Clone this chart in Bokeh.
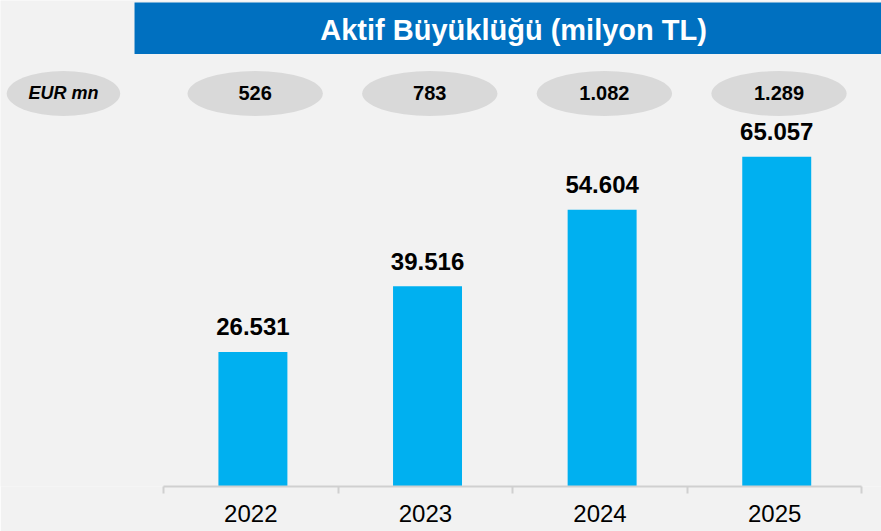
from bokeh.plotting import figure
from bokeh.models import Range1d, FixedTicker, Label, BoxAnnotation, ColumnDataSource
from bokeh.core.properties import value
from bokeh.embed import file_html
from bokeh.resources import INLINE

# ---- data ----
years = ["2022", "2023", "2024", "2025"]
assets_tl_mn = [26531, 39516, 54604, 65057]
asset_labels = ["26.531", "39.516", "54.604", "65.057"]
eur_mn_labels = ["526", "783", "1.082", "1.289"]
eur_header = "EUR mn"
title_text = "Aktif Büyüklüğü (milyon TL)"

BG = "#F2F2F2"
BAR = "#00B0F0"
TITLE_BG = "#0070C0"
PILL = "#D9D9D9"
FONT = "Liberation Sans"

pos = [i + 1 for i in range(len(years))]

Y_TOP = 95858
PX = 1000 / 5.07  # data units per screen pixel (vertical)

p = figure(width=881, height=531, output_backend="svg", toolbar_location=None,
           x_range=Range1d(-0.4336, 4.612), y_range=Range1d(0, Y_TOP),
           min_border_left=0, min_border_right=0, min_border_top=0, min_border_bottom=45,
           background_fill_color=BG, border_fill_color=BG, outline_line_color=None)
p.grid.visible = False
p.yaxis.visible = False

# bars
src = ColumnDataSource(dict(x=[x + 0.012 for x in pos], top=assets_tl_mn, lab=asset_labels))
p.vbar(x="x", top="top", bottom=0, width=0.395, source=src, fill_color=BAR, line_color=None)
p.text(x="x", y="top", text="lab", source=src, text_align="center", text_baseline="alphabetic",
       y_offset=-25, text_font=value(FONT), text_font_style="bold", text_font_size="24px",
       text_color="black")

# title bar
p.add_layout(BoxAnnotation(left=0.334, right=4.7, bottom=Y_TOP - 53.5 * PX, top=Y_TOP - 2 * PX,
                           fill_color=TITLE_BG, fill_alpha=1, line_color=None, level="underlay"))
p.add_layout(Label(x=2.505, y=Y_TOP - 29.5 * PX, text=title_text, text_align="center",
                   text_baseline="middle", text_font=FONT, text_font_style="bold",
                   text_font_size="29px", text_color="white"))

# EUR pills
pill_y = Y_TOP - 93 * PX
ex = [-0.073] + [x + 0.025 for x in pos]
etxt = [eur_header] + eur_mn_labels
estyle = ["bold italic"] + ["bold"] * len(eur_mn_labels)
esize = ["18px"] + ["20px"] * len(eur_mn_labels)
esrc = ColumnDataSource(dict(x=ex, y=[pill_y] * len(ex), t=etxt, st=estyle, sz=esize,
                             w=[0.65] + [0.775] * len(eur_mn_labels)))
p.ellipse(x="x", y="y", width="w", height=45, height_units="screen", source=esrc,
          fill_color=PILL, line_color=None)
p.text(x="x", y="y", text="t", source=esrc, text_align="center", text_baseline="middle",
       text_font=value(FONT), text_font_style="st", text_font_size="sz", text_color="black")

# x axis
ax = p.xaxis[0]
ax.bounds = (0.5, 4.5)
ax.ticker = FixedTicker(ticks=pos, minor_ticks=[0.5, 1.5, 2.5, 3.5, 4.5])
ax.major_label_overrides = {x: y for x, y in zip(pos, years)}
ax.major_tick_out = 0
ax.major_tick_in = 0
ax.minor_tick_out = 7
ax.minor_tick_in = 0
ax.minor_tick_line_color = "#D0D0D0"
ax.minor_tick_line_width = 2
ax.axis_line_color = "#D0D0D0"
ax.axis_line_width = 2
ax.major_label_text_font = FONT
ax.major_label_text_font_size = "24px"
ax.major_label_text_color = "black"
ax.major_label_standoff = 11

html = file_html(p, INLINE)
html = html.replace("<body>", '<body style="background:#F2F2F2">', 1)
open("out.html", "w").write(html)
